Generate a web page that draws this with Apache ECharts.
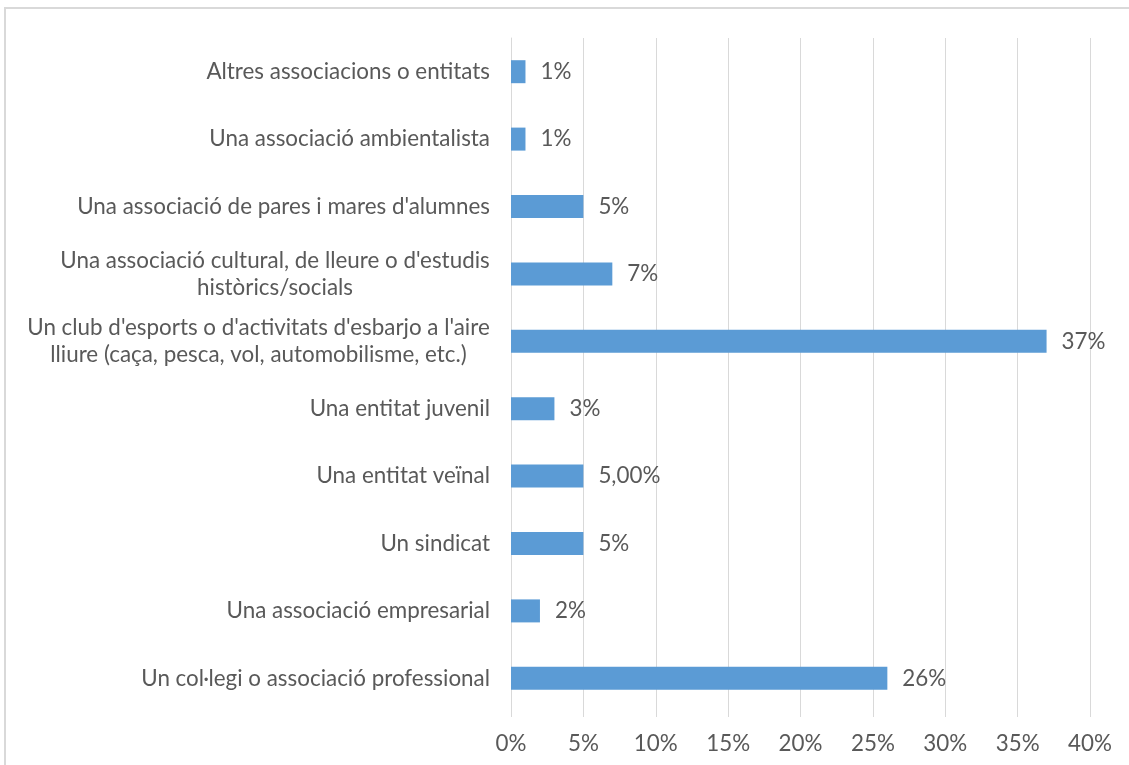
<!DOCTYPE html>
<html><head><meta charset="utf-8">
<script src="https://cdn.jsdelivr.net/npm/echarts@6/dist/echarts.min.js"></script>
<style>html,body{margin:0;padding:0;background:#fff}#c{width:1129px;height:765px}</style>
</head><body><div id="c"></div>
<script>
const categories = [
  "Altres associacions o entitats",
  "Una associació ambientalista",
  "Una associació de pares i mares d'alumnes",
  "Una associació cultural, de lleure o d'estudis\nhistòrics/socials",
  "Un club d'esports o d'activitats d'esbarjo a l'aire\nlliure (caça, pesca, vol, automobilisme, etc.)",
  "Una entitat juvenil",
  "Una entitat veïnal",
  "Un sindicat",
  "Una associació empresarial",
  "Un col·legi o associació professional"
];
const values = [1, 1, 5, 7, 37, 3, 5, 5, 2, 26];
const valueLabels = ["1%", "1%", "5%", "7%", "37%", "3%", "5,00%", "5%", "2%", "26%"];
const tickValues = [0, 5, 10, 15, 20, 25, 30, 35, 40];

const FONT = 'Lato';
const FS = 22.4;
const TXT = '#595959';
const ctx = document.createElement('canvas').getContext('2d');
ctx.font = FS + 'px ' + FONT;
function blockWidth(v) {
  return Math.ceil(Math.max.apply(null, v.split('\n').map(l => ctx.measureText(l).width)));
}
function lblFormatter(v) {
  const lines = v.split('\n');
  if (lines.length === 1) return v;
  const w = blockWidth(v);
  return lines.map(l => '{c' + w + '|' + l + '}').join('\n');
}
const rich = {};
categories.forEach(v => {
  if (v.indexOf('\n') >= 0) {
    const w = blockWidth(v);
    rich['c' + w] = {width: w, align: 'center', fontFamily: FONT, fontSize: FS, color: TXT, lineHeight: 27};
  }
});

const chart = echarts.init(document.getElementById('c'), null, {renderer: 'canvas'});
chart.setOption({
  animation: false,
  backgroundColor: '#fff',
  textStyle: {fontFamily: FONT},
  graphic: [{type: 'rect', shape: {x: 5, y: 8, width: 1300, height: 900}, style: {fill: null, stroke: '#d9d9d9', lineWidth: 2}, silent: true}],
  grid: {left: 511, right: 39, top: 38, bottom: 53},
  xAxis: {
    type: 'value', min: 0, max: 40, interval: 5,
    axisLine: {show: false},
    axisTick: {show: true, length: 5, lineStyle: {color: '#d9d9d9'}},
    splitLine: {show: true, lineStyle: {color: '#d9d9d9', width: 1}},
    axisLabel: {formatter: v => tickValues.indexOf(v) >= 0 ? v + '%' : '', color: TXT, fontSize: FS, fontFamily: FONT, margin: 21}
  },
  yAxis: {
    type: 'category', data: categories, inverse: true,
    axisLine: {show: true, lineStyle: {color: '#d9d9d9'}},
    axisTick: {show: false},
    axisLabel: {color: TXT, fontSize: FS, fontFamily: FONT, margin: 21, lineHeight: 27, formatter: lblFormatter, rich: rich}
  },
  series: [{
    type: 'bar', data: values, barWidth: 23,
    itemStyle: {color: '#5b9bd5'},
    label: {show: true, position: 'right', distance: 15, color: TXT, fontSize: FS, fontFamily: FONT,
      formatter: p => valueLabels[p.dataIndex]}
  }]
});
</script></body></html>
